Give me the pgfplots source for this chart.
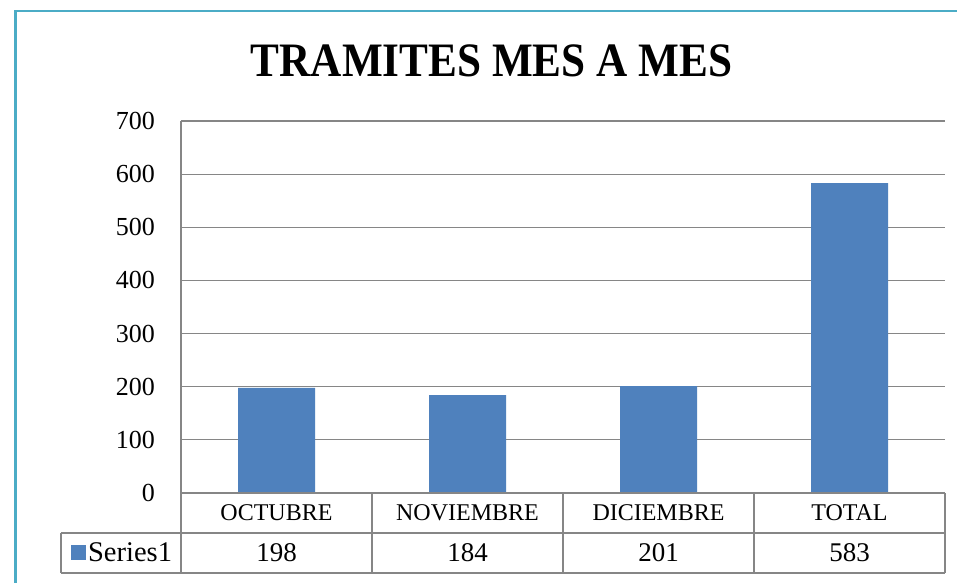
\documentclass[border=0pt]{standalone}
\usepackage{fontspec}
\setmainfont{Liberation Serif}
\newfontfamily\titlefont[FakeStretch=0.9]{Liberation Serif Bold}
\usepackage{pgfplots}
\usepackage{pgfplotstable}
\pgfplotsset{compat=1.18}
\definecolor{barblue}{RGB}{79,129,189}
\definecolor{gridgray}{RGB}{134,134,134}
\definecolor{framecol}{RGB}{75,172,198}
\pgfplotstableread{
x v
0.5 198
1.5 184
2.5 201
3.5 583
}\data
\begin{document}
\begin{tikzpicture}
\clip (0pt,0pt) rectangle (957pt,582pt);
\fill[white] (0pt,0pt) rectangle (957pt,582pt);
\draw[framecol, line width=2.6pt] (15.3pt,-20pt) -- (15.3pt,570.8pt) -- (980pt,570.8pt);
\node[font=\titlefont\fontsize{48}{50}\selectfont, inner sep=0pt] at (491.5pt,521.5pt) {TRAMITES MES A MES};
\begin{axis}[
  at={(181pt,89pt)}, anchor=south west,
  scale only axis, width=764pt, height=372pt,
  xmin=0, xmax=4, ymin=0, ymax=700,
  ytick={0,100,...,700},
  xtick={0.5,1.5,2.5,3.5},
  xticklabels={OCTUBRE,NOVIEMBRE,DICIEMBRE,TOTAL},
  axis line style={draw=none},
  major tick length=0pt,
  ymajorgrids,
  major grid style={gridgray, line width=1.2pt},
  clip=false,
  /pgf/number format/assume math mode=true,
  yticklabel style={font=\fontsize{26}{28}\selectfont, anchor=east, inner sep=0pt, xshift=-26pt},
  xticklabel style={font=\fontsize{24}{26}\selectfont, anchor=center, inner sep=0pt, yshift=-20pt},
  legend style={at={(-0.1447,-0.1600)}, anchor=west, draw=none, fill=none,
    inner sep=0pt, nodes={inner sep=2.5pt}, font=\fontsize{28.5}{30}\selectfont},
  legend image code/.code={\fill[#1,draw=none] (0pt,-7.5pt) rectangle (15pt,7.5pt);},
]
\addplot[ybar, bar width=77pt, fill=barblue, draw=none] table[x=x,y=v]{\data};
\addlegendentry{Series1}
\addplot[draw=none, forget plot, nodes near coords, point meta=explicit,
  nodes near coords style={anchor=center, inner sep=0pt, font=\fontsize{27}{29}\selectfont}]
  table[x=x, y expr=-112.9, meta=v]{\data};
% table grid
\draw[gridgray, line width=1.2pt]
  (rel axis cs:0,1) -- (rel axis cs:0,-0.21505)
  (rel axis cs:0,0) -- (rel axis cs:1,0)
  (rel axis cs:0,-0.10753) -- (rel axis cs:1,-0.10753)
  (rel axis cs:-0.15707,-0.10753) -- (rel axis cs:0,-0.10753)
  (rel axis cs:-0.15707,-0.21505) -- (rel axis cs:1,-0.21505)
  (rel axis cs:-0.15707,-0.10753) -- (rel axis cs:-0.15707,-0.21505)
  (rel axis cs:0.25,0) -- (rel axis cs:0.25,-0.21505)
  (rel axis cs:0.5,0) -- (rel axis cs:0.5,-0.21505)
  (rel axis cs:0.75,0) -- (rel axis cs:0.75,-0.21505)
  (rel axis cs:1,0) -- (rel axis cs:1,-0.21505);
\end{axis}
\end{tikzpicture}
\end{document}
